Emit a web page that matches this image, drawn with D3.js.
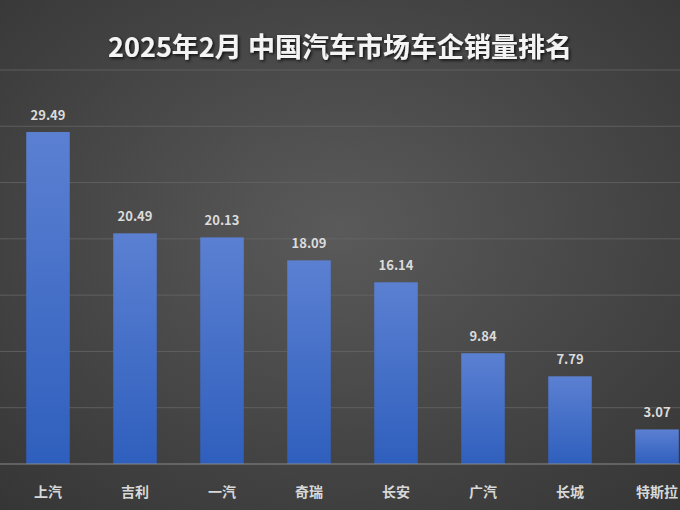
<!DOCTYPE html>
<html><head><meta charset="utf-8">
<script src="https://cdn.jsdelivr.net/npm/d3@7"></script>
<style>body{margin:0;background:#3c3c3c}svg{display:block}</style>
</head><body><svg id="c" width="680" height="510"></svg>
<script>
const categories = ["上汽","吉利","一汽","奇瑞","长安","广汽","长城","特斯拉"];
const values = [29.49,20.49,20.13,18.09,16.14,9.84,7.79,3.07];
const gridTicks = [0,5,10,15,20,25,30,35];
const title = "2025年2月 中国汽车市场车企销量排名";

const svg = d3.select("#c");
const defs = svg.append("defs");
const rg = defs.append("radialGradient").attr("id","bg").attr("cx","50%").attr("cy","45%").attr("r","75%");
rg.append("stop").attr("offset","0%").attr("stop-color","#5a5a5a");
rg.append("stop").attr("offset","100%").attr("stop-color","#353535");
const lg = defs.append("linearGradient").attr("id","bar").attr("x1",0).attr("y1",0).attr("x2",0).attr("y2",1);
lg.append("stop").attr("offset","0%").attr("stop-color","#5b80d2");
lg.append("stop").attr("offset","100%").attr("stop-color","#2f5fbd");
const f = defs.append("filter").attr("id","sh").attr("x","-10%").attr("y","-30%").attr("width","120%").attr("height","160%");
f.append("feDropShadow").attr("dx",1.5).attr("dy",1.5).attr("stdDeviation",1.5).attr("flood-color","#000").attr("flood-opacity",0.8);

svg.append("rect").attr("width",680).attr("height",510).attr("fill","url(#bg)");

const x = d3.scaleBand().domain(categories).range([4.5,700.5]).paddingInner(0.5).paddingOuter(0.25);
const y = d3.scaleLinear().domain([0,35]).range([464,70]);

svg.append("g").selectAll("line").data(gridTicks.slice(1)).join("line")
  .attr("x1",0).attr("x2",680).attr("y1",d=>y(d)).attr("y2",d=>y(d))
  .attr("stroke","#666").attr("stroke-width",0.8);

svg.append("g").selectAll("rect").data(values).join("rect")
  .attr("x",(d,i)=>x(categories[i])).attr("width",x.bandwidth())
  .attr("y",d=>y(d)).attr("height",d=>y(0)-y(d)).attr("fill","url(#bar)");

svg.append("line").attr("x1",0).attr("x2",680).attr("y1",y(0)).attr("y2",y(0)).attr("stroke","#8a8a8a").attr("stroke-width",1.2);

const font = "'Noto Sans CJK SC','Noto Sans',sans-serif";
svg.append("g").selectAll("text").data(values).join("text")
  .attr("x",(d,i)=>x(categories[i])+x.bandwidth()/2).attr("y",d=>y(d)-12)
  .attr("text-anchor","middle").attr("font-family",font).attr("font-weight","bold")
  .attr("font-size",13).attr("fill","#dcdcdc").text(d=>d.toFixed(2));

svg.append("g").selectAll("text").data(categories).join("text")
  .attr("x",d=>x(d)+x.bandwidth()/2).attr("y",497)
  .attr("text-anchor","middle").attr("font-family",font).attr("font-weight","bold")
  .attr("font-size",14).attr("fill","#d8d8d8").text(d=>d);

svg.append("text").attr("x",340).attr("y",57).attr("text-anchor","middle")
  .attr("font-family",font).attr("font-weight","bold").attr("font-size",27)
  .attr("fill","#f4f4f4").attr("filter","url(#sh)").text(title);
</script></body></html>
